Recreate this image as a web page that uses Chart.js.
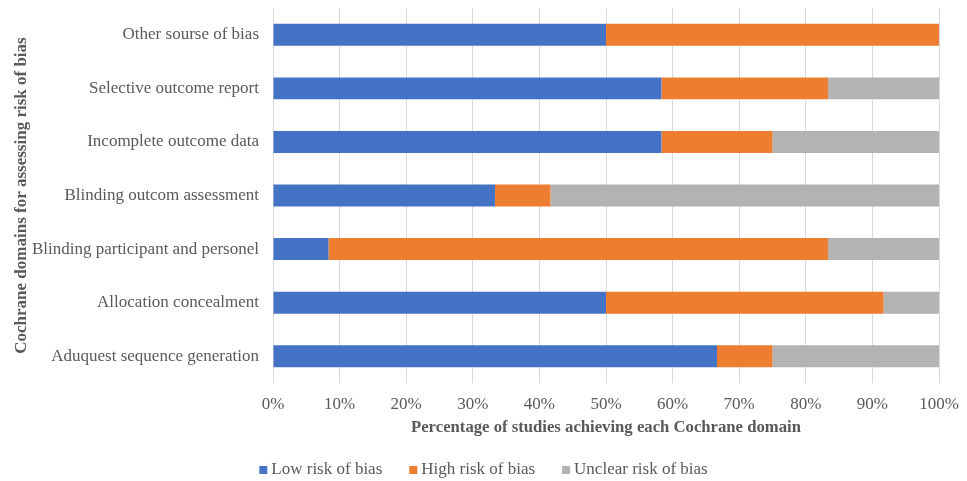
<!DOCTYPE html>
<html>
<head>
<meta charset="utf-8">
<script src="https://cdn.jsdelivr.net/npm/chart.js@4"></script>
<style>
  html, body { margin: 0; padding: 0; background: #ffffff; }
  #wrap { width: 967px; height: 481px; position: relative; }
</style>
</head>
<body>
<div id="wrap"><canvas id="chart"></canvas></div>
<script>
// Cochrane risk-of-bias domains (top to bottom)
const domains = [
  'Other sourse of bias',
  'Selective outcome report',
  'Incomplete outcome data',
  'Blinding outcom assessment',
  'Blinding participant and personel',
  'Allocation concealment',
  'Aduquest sequence generation'
];

// Percentage of studies per judgement
const lowRisk     = [50.0, 58.33, 58.33, 33.33,  8.33, 50.0, 66.67];
const highRisk    = [50.0, 25.0,  16.67,  8.33, 75.0,  41.67, 8.33];
const unclearRisk = [ 0.0, 16.67, 25.0,  58.34, 16.67,  8.33, 25.0];

const seriesNames = ['Low risk of bias', 'High risk of bias', 'Unclear risk of bias'];
const seriesColors = ['#4472C4', '#ED7D31', '#B3B3B3'];

const xTicks = [0, 10, 20, 30, 40, 50, 60, 70, 80, 90, 100];

const serif = "'Liberation Serif', 'DejaVu Serif', serif";
const textColor = '#595959';
const fontSize = 17;

const ds = [lowRisk, highRisk, unclearRisk].map((vals, i) => ({
  label: seriesNames[i],
  data: vals,
  backgroundColor: seriesColors[i],
  borderWidth: 0,
  categoryPercentage: 1.0,
  barPercentage: 0.41
}));

// Compact legend row: small square, short gap, label
const bottomLegend = {
  id: 'bottomLegend',
  afterDraw(chart) {
    const ctx = chart.ctx;
    const box = 8, gapText = 4, gapItem = 27;
    ctx.save();
    ctx.font = fontSize + 'px ' + serif;
    ctx.textBaseline = 'middle';
    const items = chart.data.datasets.map(d => ({
      text: d.label, color: d.backgroundColor, w: ctx.measureText(d.label).width
    }));
    const total = items.reduce((s, it) => s + box + gapText + it.w, 0) + gapItem * (items.length - 1);
    let x = (chart.width - total) / 2;
    const y = 470;
    items.forEach(it => {
      ctx.fillStyle = it.color;
      ctx.fillRect(x, y - box / 2, box, box);
      x += box + gapText;
      ctx.fillStyle = textColor;
      ctx.fillText(it.text, x, y);
      x += it.w + gapItem;
    });
    ctx.restore();
  }
};

new Chart(document.getElementById('chart'), {
  type: 'bar',
  data: { labels: domains, datasets: ds },
  plugins: [bottomLegend],
  options: {
    indexAxis: 'y',
    responsive: true,
    maintainAspectRatio: false,
    animation: false,
    layout: { padding: { top: 8, right: 28, left: 0, bottom: 40 } },
    scales: {
      x: {
        stacked: true,
        min: 0,
        max: 100,
        afterBuildTicks: (axis) => { axis.ticks = xTicks.map(v => ({ value: v })); },
        afterFit: (axis) => {
          axis.height = 58;
          axis.paddingLeft = 0;
          axis.paddingRight = 0;
        },
        grid: { color: '#D9D9D9', lineWidth: 1, drawTicks: false },
        border: { display: false },
        ticks: {
          padding: 11,
          color: textColor,
          font: { family: serif, size: fontSize },
          callback: (v) => v + '%'
        },
        title: {
          display: true,
          text: 'Percentage of studies achieving each Cochrane domain',
          color: textColor,
          font: { family: serif, size: 16.7, weight: 'bold' },
          padding: { top: 0, bottom: 3 }
        }
      },
      y: {
        stacked: true,
        afterFit: (axis) => {
          axis.width = 273;
          axis.paddingTop = 0;
          axis.paddingBottom = 0;
        },
        grid: { display: false, drawTicks: false },
        border: { display: false },
        ticks: {
          padding: 14,
          color: textColor,
          font: { family: serif, size: fontSize }
        },
        title: {
          display: true,
          text: 'Cochrane domains for assessing risk of bias',
          color: textColor,
          font: { family: serif, size: 17, weight: 'bold' },
          padding: { top: 11, bottom: 0 }
        }
      }
    },
    plugins: {
      legend: { display: false },
      tooltip: { enabled: false }
    }
  }
});
</script>
</body>
</html>
